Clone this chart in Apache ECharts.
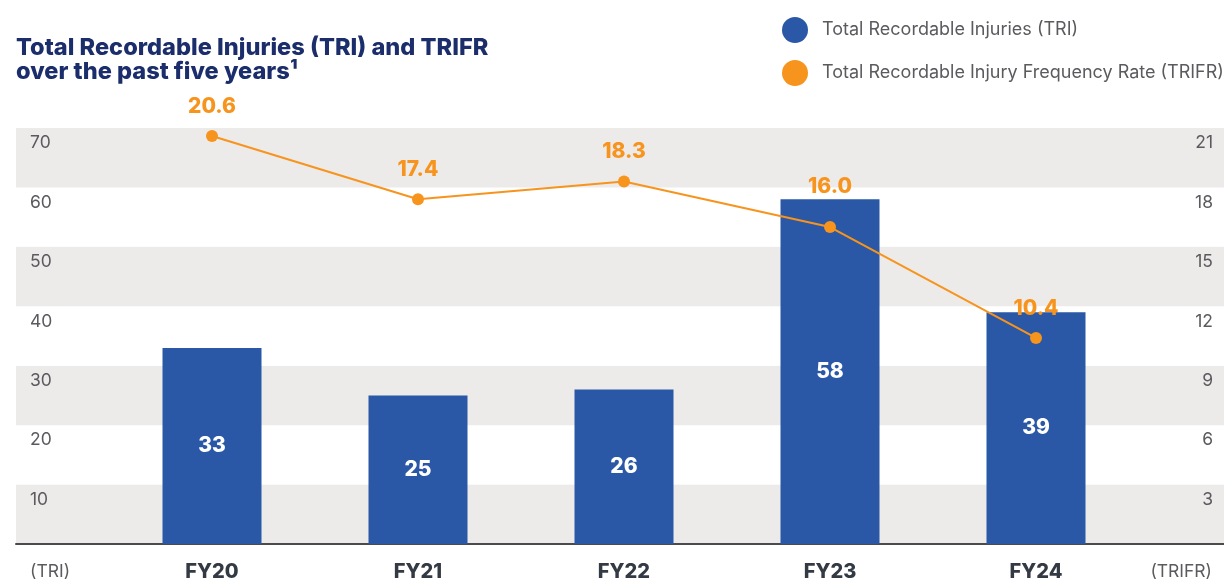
<!DOCTYPE html>
<html>
<head>
<meta charset="utf-8">
<script src="https://cdn.jsdelivr.net/npm/echarts@6/dist/echarts.min.js"></script>
<style>html,body{margin:0;padding:0;background:#fff;}#c{width:1224px;height:583px;}</style>
</head>
<body>
<div id="c"></div>
<script>
const categories = ['FY20', 'FY21', 'FY22', 'FY23', 'FY24'];
const triValues = [33, 25, 26, 58, 39];
const trifrValues = [20.6, 17.4, 18.3, 16.0, 10.4];
const triAxis = { min: 0, max: 70, interval: 10 };
const trifrAxis = { min: 0, max: 21, interval: 3 };
const seriesNames = ['Total Recordable Injuries (TRI)', 'Total Recordable Injury Frequency Rate (TRIFR)'];

const FONT = 'Inter';
const chart = echarts.init(document.getElementById('c'), null, { renderer: 'canvas' });
const gridTop = 128, gridBottom = 39;

// line points; the FY23 label is lifted a little so it clears the bar top
const trifrData = trifrValues.map((v, i) => (
  categories[i] === 'FY23' ? { value: v, label: { distance: 24 } } : v
));

chart.setOption({
  animation: false,
  textStyle: { fontFamily: FONT },
  title: {
    text: 'Total Recordable Injuries (TRI) and TRIFR\nover the past five years\u00B9',
    left: 11, top: 31,
    textStyle: { fontFamily: FONT, fontSize: 23.6, fontWeight: 800, color: '#1b2d6b', lineHeight: 24 }
  },
  legend: {
    orient: 'vertical', left: 777, top: 12, icon: 'circle',
    itemWidth: 26, itemHeight: 26, itemGap: 17,
    data: seriesNames,
    textStyle: { fontFamily: FONT, fontSize: 18, color: '#5b5b5f', padding: [0, 0, 0, 9] }
  },
  grid: [
    { left: 16, right: 0, top: gridTop, bottom: gridBottom },
    { left: 109, right: 85, top: gridTop, bottom: gridBottom }
  ],
  xAxis: [
    { gridIndex: 0, type: 'value', min: 0, max: 1,
      axisLine: { show: true, lineStyle: { color: '#4a4a4f', width: 2 } },
      axisTick: { show: false }, axisLabel: { show: false }, splitLine: { show: false } },
    { gridIndex: 1, type: 'category', data: categories,
      axisLine: { show: false }, axisTick: { show: false },
      axisLabel: { margin: 18, fontFamily: FONT, fontSize: 20, fontWeight: 800, color: '#343a44' } }
  ],
  yAxis: [
    { gridIndex: 0, type: 'value', position: 'left', min: triAxis.min, max: triAxis.max, interval: triAxis.interval,
      name: '(TRI)', nameLocation: 'start', nameGap: 28,
      nameTextStyle: { fontFamily: FONT, fontSize: 17.5, color: '#5b5b5f', align: 'left', verticalAlign: 'middle', padding: [0, 0, 0, 14] },
      axisLine: { show: false }, axisTick: { show: false }, splitLine: { show: false },
      splitArea: { show: true, areaStyle: { color: ['#edeaea', '#ffffff'] } },
      axisLabel: { inside: true, margin: 14, verticalAlign: 'top', padding: [6, 0, 0, 0],
        fontFamily: FONT, fontSize: 17.5, color: '#5b5b5f',
        formatter: v => (v === 0 ? '' : String(v)) } },
    { gridIndex: 0, type: 'value', position: 'right', min: trifrAxis.min, max: trifrAxis.max, interval: trifrAxis.interval,
      name: '(TRIFR)', nameLocation: 'start', nameGap: 28,
      nameTextStyle: { fontFamily: FONT, fontSize: 17.5, color: '#5b5b5f', align: 'right', verticalAlign: 'middle', padding: [0, 12, 0, 0] },
      axisLine: { show: false }, axisTick: { show: false }, splitLine: { show: false },
      axisLabel: { inside: true, margin: 11, verticalAlign: 'top', padding: [6, 0, 0, 0],
        fontFamily: FONT, fontSize: 17.5, color: '#5b5b5f',
        formatter: v => (v === 0 ? '' : String(v)) } },
    { gridIndex: 1, type: 'value', min: triAxis.min, max: triAxis.max, show: false, splitLine: { show: false } },
    { gridIndex: 1, type: 'value', min: trifrAxis.min, max: trifrAxis.max, show: false, splitLine: { show: false } }
  ],
  series: [
    { name: seriesNames[0], type: 'bar', xAxisIndex: 1, yAxisIndex: 2, data: triValues,
      barWidth: 99, itemStyle: { color: '#2b58a6' },
      label: { show: true, position: 'inside', fontFamily: FONT, fontSize: 21, fontWeight: 800, color: '#ffffff' } },
    { name: seriesNames[1], type: 'line', xAxisIndex: 1, yAxisIndex: 3, data: trifrData,
      symbol: 'circle', symbolSize: 12, z: 5,
      lineStyle: { color: '#f7941d', width: 2 }, itemStyle: { color: '#f7941d' },
      label: { show: true, position: 'top', distance: 13, fontFamily: FONT, fontSize: 21, fontWeight: 800, color: '#f7941d',
        formatter: p => Number(p.value).toFixed(1) } }
  ]
});
</script>
</body>
</html>
